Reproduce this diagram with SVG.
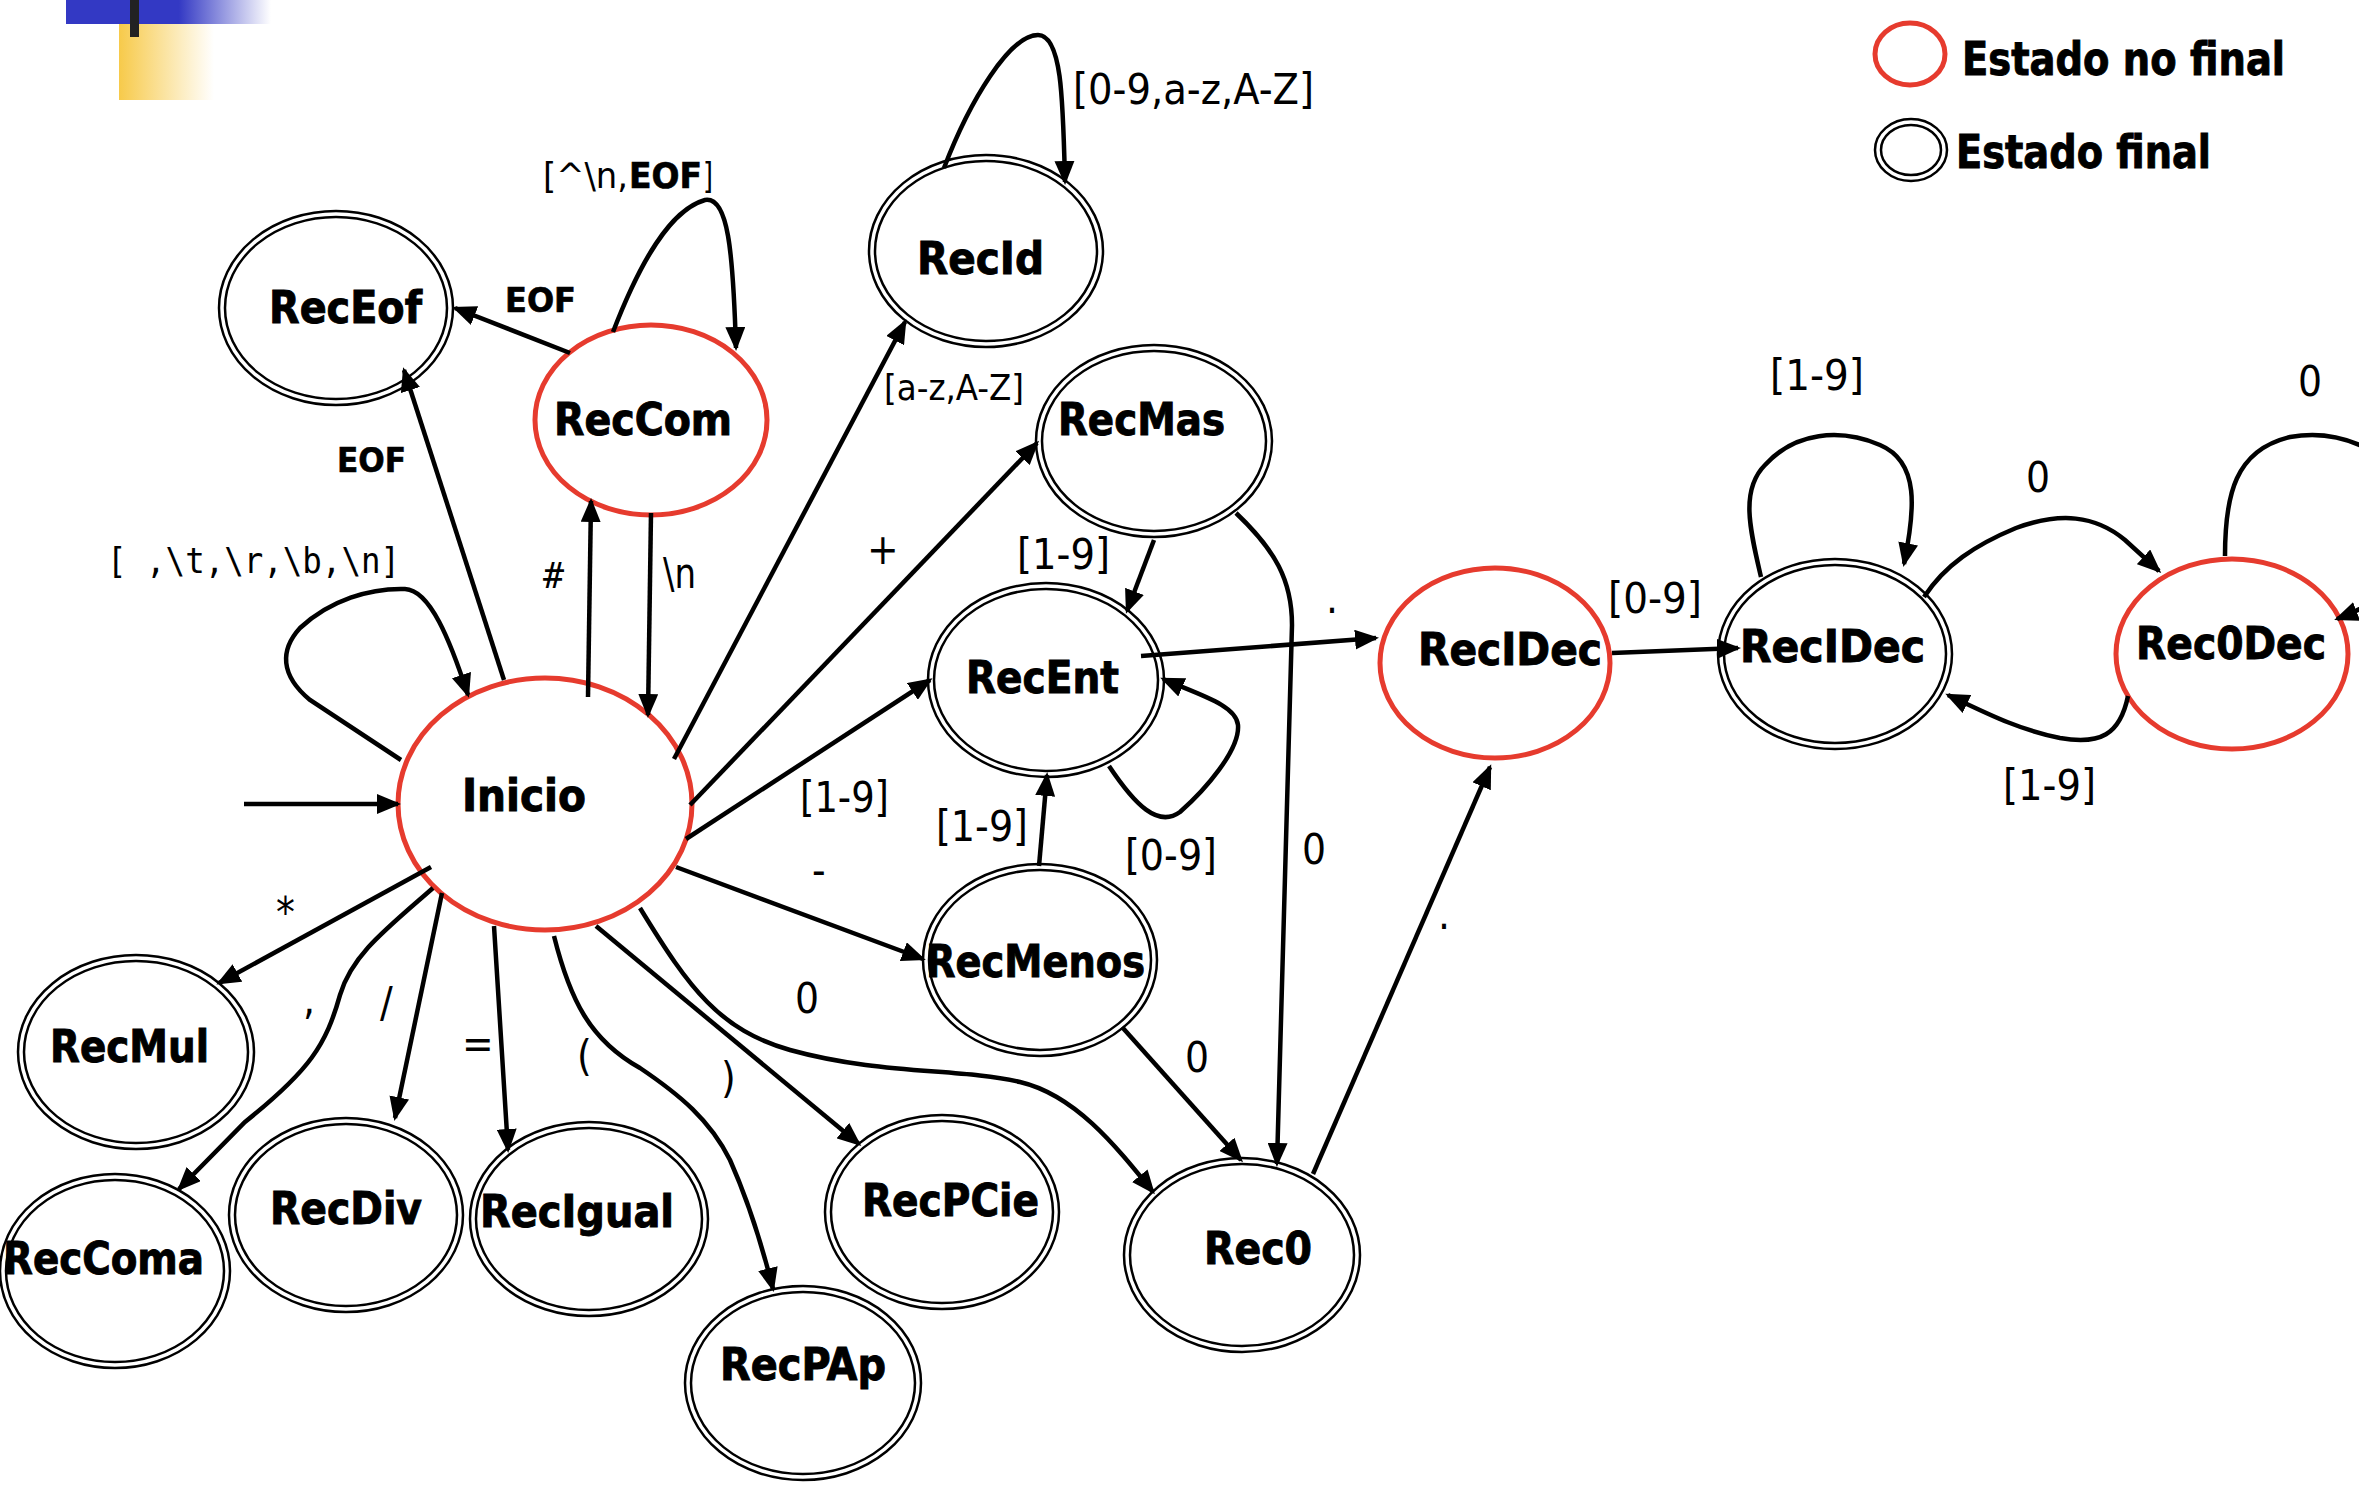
<svg xmlns="http://www.w3.org/2000/svg" width="2359" height="1489" viewBox="0 0 2359 1489">
<defs>
<linearGradient id="gBlue" gradientUnits="userSpaceOnUse" x1="66" y1="0" x2="271" y2="0">
<stop offset="0" stop-color="#3339c4"/><stop offset="0.55" stop-color="#3339c4"/><stop offset="1" stop-color="#ffffff"/>
</linearGradient>
<linearGradient id="gYel" gradientUnits="userSpaceOnUse" x1="119" y1="0" x2="214" y2="0">
<stop offset="0" stop-color="#f7ca4a"/><stop offset="1" stop-color="#ffffff"/>
</linearGradient>
<marker id="arr" viewBox="0 0 24 20" refX="21" refY="10" markerWidth="24" markerHeight="20" markerUnits="userSpaceOnUse" orient="auto">
<path d="M0,0 L24,10 L0,20 z" fill="#000"/>
</marker>
<style>
.red { fill:#fff; stroke:#e63b2e; stroke-width:5; }
.fo { fill:#fff; stroke:#000; stroke-width:2.5; }
.fi { fill:none; stroke:#000; stroke-width:2.5; }
.edge { fill:none; stroke:#000; stroke-width:4.5; marker-end:url(#arr); }
.nl { font-family:"DejaVu Sans Condensed","DejaVu Sans",sans-serif; font-weight:bold; font-size:45px; fill:#000; stroke:#000; stroke-width:0.9; }
.lg { font-family:"DejaVu Sans Condensed","DejaVu Sans",sans-serif; font-weight:bold; font-size:46px; fill:#000; stroke:#000; stroke-width:0.9; }
.el { font-family:"DejaVu Sans Condensed","DejaVu Sans",sans-serif; font-size:42px; fill:#000; }
.eb { font-family:"DejaVu Sans Condensed","DejaVu Sans",sans-serif; font-weight:bold; font-size:34px; fill:#000; stroke:#000; stroke-width:0.6; }
.mono { font-family:"DejaVu Sans Mono","Liberation Mono",monospace; font-size:35px; fill:#000; }
</style>
</defs>
<rect width="2359" height="1489" fill="#fff"/>
<g id="decoration">
<rect x="66" y="0" width="205" height="24" fill="url(#gBlue)"/>
<rect x="119" y="24" width="95" height="76" fill="url(#gYel)"/>
<rect x="130" y="0" width="9" height="37" fill="#222"/>
</g>
<g id="legend">
<ellipse class="red" cx="1910" cy="54" rx="35" ry="31"/>
<text class="lg" x="1962" y="75" textLength="323" lengthAdjust="spacingAndGlyphs">Estado no final</text>
<ellipse class="fo" cx="1911" cy="150" rx="36" ry="31"/>
<ellipse class="fi" cx="1911" cy="150" rx="30" ry="25"/>
<text class="lg" x="1956" y="168" textLength="255" lengthAdjust="spacingAndGlyphs">Estado final</text>
</g>
<g id="n-Inicio"><ellipse class="red" cx="545" cy="804" rx="147" ry="126"/><text class="nl" x="462" y="811" textLength="124" lengthAdjust="spacingAndGlyphs">Inicio</text></g>
<g id="n-RecEof"><ellipse class="fo" cx="336" cy="308" rx="117" ry="97"/><ellipse class="fi" cx="336" cy="308" rx="111" ry="91"/><text class="nl" x="269" y="323" textLength="153" lengthAdjust="spacingAndGlyphs">RecEof</text></g>
<g id="n-RecCom"><ellipse class="red" cx="651" cy="420" rx="116" ry="95"/><text class="nl" x="554" y="435" textLength="178" lengthAdjust="spacingAndGlyphs">RecCom</text></g>
<g id="n-RecId"><ellipse class="fo" cx="986" cy="251" rx="117" ry="96"/><ellipse class="fi" cx="986" cy="251" rx="111" ry="90"/><text class="nl" x="917" y="274" textLength="127" lengthAdjust="spacingAndGlyphs">RecId</text></g>
<g id="n-RecMas"><ellipse class="fo" cx="1154" cy="441" rx="118" ry="96"/><ellipse class="fi" cx="1154" cy="441" rx="112" ry="90"/><text class="nl" x="1058" y="435" textLength="167" lengthAdjust="spacingAndGlyphs">RecMas</text></g>
<g id="n-RecEnt"><ellipse class="fo" cx="1046" cy="680" rx="118" ry="97"/><ellipse class="fi" cx="1046" cy="680" rx="112" ry="91"/><text class="nl" x="966" y="693" textLength="153" lengthAdjust="spacingAndGlyphs">RecEnt</text></g>
<g id="n-RecIDec1"><ellipse class="red" cx="1495" cy="663" rx="115" ry="95"/><text class="nl" x="1418" y="665" textLength="184" lengthAdjust="spacingAndGlyphs">RecIDec</text></g>
<g id="n-RecIDec2"><ellipse class="fo" cx="1835" cy="654" rx="117" ry="95"/><ellipse class="fi" cx="1835" cy="654" rx="111" ry="89"/><text class="nl" x="1740" y="662" textLength="185" lengthAdjust="spacingAndGlyphs">RecIDec</text></g>
<g id="n-Rec0Dec"><ellipse class="red" cx="2232" cy="654" rx="116" ry="95"/><text class="nl" x="2136" y="659" textLength="190" lengthAdjust="spacingAndGlyphs">Rec0Dec</text></g>
<g id="n-RecMul"><ellipse class="fo" cx="136" cy="1052" rx="118" ry="97"/><ellipse class="fi" cx="136" cy="1052" rx="112" ry="91"/><text class="nl" x="50" y="1062" textLength="159" lengthAdjust="spacingAndGlyphs">RecMul</text></g>
<g id="n-RecComa"><ellipse class="fo" cx="115" cy="1271" rx="115" ry="97"/><ellipse class="fi" cx="115" cy="1271" rx="109" ry="91"/><text class="nl" x="3" y="1274" textLength="201" lengthAdjust="spacingAndGlyphs">RecComa</text></g>
<g id="n-RecDiv"><ellipse class="fo" cx="346" cy="1215" rx="117" ry="97"/><ellipse class="fi" cx="346" cy="1215" rx="111" ry="91"/><text class="nl" x="270" y="1224" textLength="152" lengthAdjust="spacingAndGlyphs">RecDiv</text></g>
<g id="n-RecIgual"><ellipse class="fo" cx="589" cy="1219" rx="119" ry="97"/><ellipse class="fi" cx="589" cy="1219" rx="113" ry="91"/><text class="nl" x="480" y="1227" textLength="194" lengthAdjust="spacingAndGlyphs">RecIgual</text></g>
<g id="n-RecMenos"><ellipse class="fo" cx="1040" cy="960" rx="117" ry="96"/><ellipse class="fi" cx="1040" cy="960" rx="111" ry="90"/><text class="nl" x="926" y="977" textLength="219" lengthAdjust="spacingAndGlyphs">RecMenos</text></g>
<g id="n-RecPCie"><ellipse class="fo" cx="942" cy="1212" rx="117" ry="97"/><ellipse class="fi" cx="942" cy="1212" rx="111" ry="91"/><text class="nl" x="862" y="1216" textLength="177" lengthAdjust="spacingAndGlyphs">RecPCie</text></g>
<g id="n-RecPAp"><ellipse class="fo" cx="803" cy="1383" rx="118" ry="97"/><ellipse class="fi" cx="803" cy="1383" rx="112" ry="91"/><text class="nl" x="720" y="1380" textLength="166" lengthAdjust="spacingAndGlyphs">RecPAp</text></g>
<g id="n-Rec0"><ellipse class="fo" cx="1242" cy="1255" rx="118" ry="97"/><ellipse class="fi" cx="1242" cy="1255" rx="112" ry="91"/><text class="nl" x="1204" y="1264" textLength="108" lengthAdjust="spacingAndGlyphs">Rec0</text></g>
<g id="connectors">
<path class="edge" d="M244,804 L398,804"/>
<path class="edge" d="M401,760 L310,700 C280,675 280,650 300,628 C330,600 370,588 405,589 C430,590 450,640 468,695"/>
<path class="edge" d="M504,680 L404,370"/>
<path class="edge" d="M570,353 L455,308"/>
<path class="edge" d="M613,332 C640,262 670,210 705,200 C728,196 733,250 736,348"/>
<path class="edge" d="M588,697 L591,501"/>
<path class="edge" d="M651,513 L648,715"/>
<path class="edge" d="M674,759 L905,322"/>
<path class="edge" d="M690,805 L1037,443"/>
<path class="edge" d="M686,839 L930,680"/>
<path class="edge" d="M676,867 L923,959"/>
<path class="edge" d="M640,908 C690,990 720,1030 790,1050 C880,1075 960,1068 1020,1082 C1075,1095 1115,1145 1153,1192"/>
<path class="edge" d="M596,926 L859,1144"/>
<path class="edge" d="M554,936 C570,1000 590,1040 640,1068 C680,1095 710,1120 730,1160 C750,1205 762,1245 773,1289"/>
<path class="edge" d="M494,926 L508,1150"/>
<path class="edge" d="M442,893 L395,1118"/>
<path class="edge" d="M433,888 C385,930 352,955 340,995 C326,1045 310,1070 245,1122 L179,1189"/>
<path class="edge" d="M431,867 L219,983"/>
<path class="edge" d="M944,168 C970,100 1010,35 1038,35 C1062,35 1063,100 1065,182"/>
<path class="edge" d="M1154,540 L1127,611"/>
<path class="edge" d="M1236,513 C1275,550 1292,580 1292,625 L1277,1164"/>
<path class="edge" d="M1141,656 L1376,638"/>
<path class="edge" d="M1109,766 C1135,805 1158,828 1180,812 C1205,790 1240,750 1238,725 C1236,705 1200,695 1163,679"/>
<path class="edge" d="M1039,866 L1047,775"/>
<path class="edge" d="M1122,1027 L1241,1160"/>
<path class="edge" d="M1313,1174 L1490,767"/>
<path class="edge" d="M1612,653 L1738,648"/>
<path class="edge" d="M1761,577 C1750,530 1740,490 1765,465 C1795,432 1840,428 1880,445 C1920,462 1915,510 1904,564"/>
<path class="edge" d="M1924,597 C1945,565 1975,545 2016,528 C2060,512 2095,515 2125,540 L2159,571"/>
<path class="edge" d="M2128,696 C2120,735 2100,745 2060,738 C2020,730 1990,715 1948,695"/>
<path class="edge" d="M2225,556 C2225,495 2235,450 2290,437 C2340,428 2390,450 2420,500 C2440,550 2400,595 2337,619"/>
</g>
<g id="edge-labels">
<text class="mono" x="107" y="573" textLength="293" lengthAdjust="spacingAndGlyphs">[ ,\t,\r,\b,\n]</text>
<text class="eb" x="337" y="472" textLength="69" lengthAdjust="spacingAndGlyphs">EOF</text>
<text class="eb" x="505" y="312" textLength="71" lengthAdjust="spacingAndGlyphs">EOF</text>
<text class="el" y="188" style="font-size:36px"><tspan x="543" textLength="85" lengthAdjust="spacingAndGlyphs">[^\n,</tspan><tspan x="629" style="font-weight:bold;stroke:#000;stroke-width:0.6" textLength="73" lengthAdjust="spacingAndGlyphs">EOF</tspan><tspan x="703" textLength="10" lengthAdjust="spacingAndGlyphs">]</tspan></text>
<text class="mono" x="543" y="588">#</text>
<text class="el" x="663" y="588" textLength="33" lengthAdjust="spacingAndGlyphs">\n</text>
<text class="el" x="884" y="400" style="font-size:36px" textLength="140" lengthAdjust="spacingAndGlyphs">[a-z,A-Z]</text>
<text class="el" x="1073" y="104" textLength="241" lengthAdjust="spacingAndGlyphs">[0-9,a-z,A-Z]</text>
<text class="el" x="867" y="564">+</text>
<text class="el" x="800" y="812" textLength="89" lengthAdjust="spacingAndGlyphs">[1-9]</text>
<text class="el" x="812" y="885">-</text>
<text class="el" x="795" y="1013">0</text>
<text class="el" x="721" y="1093">)</text>
<text class="el" x="577" y="1071">(</text>
<text class="el" x="462" y="1058">=</text>
<text class="el" x="380" y="1017">/</text>
<text class="el" x="303" y="1014">,</text>
<text class="el" x="276" y="927">*</text>
<text class="el" x="1017" y="569" textLength="93" lengthAdjust="spacingAndGlyphs">[1-9]</text>
<text class="el" x="1302" y="864">0</text>
<text class="el" x="1326" y="613">.</text>
<text class="el" x="1125" y="870" textLength="92" lengthAdjust="spacingAndGlyphs">[0-9]</text>
<text class="el" x="936" y="841" textLength="92" lengthAdjust="spacingAndGlyphs">[1-9]</text>
<text class="el" x="1185" y="1072">0</text>
<text class="el" x="1438" y="929">.</text>
<text class="el" x="1608" y="613" textLength="94" lengthAdjust="spacingAndGlyphs">[0-9]</text>
<text class="el" x="1770" y="390" textLength="94" lengthAdjust="spacingAndGlyphs">[1-9]</text>
<text class="el" x="2026" y="492">0</text>
<text class="el" x="2003" y="800" textLength="93" lengthAdjust="spacingAndGlyphs">[1-9]</text>
<text class="el" x="2298" y="396">0</text>
</g>
</svg>
